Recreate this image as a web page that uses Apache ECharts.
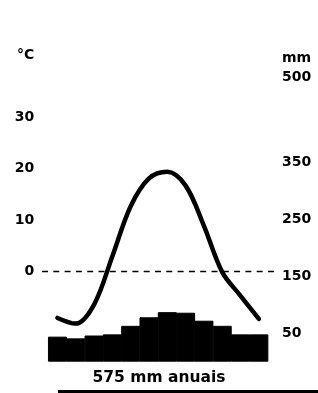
<!DOCTYPE html>
<html>
<head>
<meta charset="utf-8">
<script src="https://cdn.jsdelivr.net/npm/echarts@6/dist/echarts.min.js"></script>
<style>
  html, body { margin: 0; padding: 0; background: #fff; }
  #chart { width: 318px; height: 393px; }
</style>
</head>
<body>
<div id="chart"></div>
<script>
// meses (sem rótulo no gráfico)
const months = ['J', 'F', 'M', 'A', 'M', 'J', 'J', 'A', 'S', 'O', 'N', 'D']
// temperatura média mensal (°C)
const temperature = [-9.0, -10.1, -6.4, 3.0, 12.7, 18.1, 19.4, 16.7, 8.9, -0.1, -4.7, -9.2]
// precipitação mensal (mm)
const rainfall = [44, 41, 46, 48, 63, 78, 87, 86, 72, 63, 48, 48]
// rótulos dos eixos
const tempTicks = [0, 10, 20, 30]
const rainTicks = [50, 150, 250, 350, 500]
const zeroTemp = 0
const totalLabel = '575 mm anuais'

const font = 'DejaVu Sans'
const chart = echarts.init(document.getElementById('chart'))

const showOnly = (list) => (v) => {
  const r = Math.round(v * 100) / 100
  return list.includes(r) ? String(r) : ''
}

chart.setOption({
  animation: false,
  backgroundColor: '#fff',
  title: [
    { text: '°C', left: 12, top: 43, textStyle: { fontFamily: font, fontSize: 14, fontWeight: 'bold', color: '#000' } },
    { text: 'mm', left: 277, top: 46, textStyle: { fontFamily: font, fontSize: 14, fontWeight: 'bold', color: '#000' } },
    { text: totalLabel, left: 'center', top: 365, textStyle: { fontFamily: font, fontSize: 15.5, fontWeight: 'bold', color: '#000' } }
  ],
  grid: [
    { left: 48.3, right: 50, top: 77, bottom: 31.3 },
    // só para a linha tracejada do zero, um pouco mais larga
    { left: 42, right: 40, top: 77, bottom: 31.3 }
  ],
  xAxis: [
    {
      type: 'category', data: months, gridIndex: 0,
      axisLine: { show: false }, axisTick: { show: false }, axisLabel: { show: false }
    },
    { type: 'value', min: 0, max: 1, gridIndex: 1, show: false }
  ],
  yAxis: [
    {
      type: 'value', gridIndex: 0, position: 'left',
      min: -17.5, max: 37.8, interval: 2.5,
      axisLine: { show: false }, axisTick: { show: false }, splitLine: { show: false },
      axisLabel: {
        margin: 14, color: '#000', fontFamily: font, fontSize: 14, fontWeight: 'bold',
        showMinLabel: false, showMaxLabel: false,
        formatter: showOnly(tempTicks)
      }
    },
    {
      type: 'value', gridIndex: 0, position: 'right',
      min: 0, max: 500, interval: 50,
      axisLine: { show: false }, axisTick: { show: false }, splitLine: { show: false },
      axisLabel: {
        margin: 14, color: '#000', fontFamily: font, fontSize: 14, fontWeight: 'bold',
        formatter: showOnly(rainTicks)
      }
    },
    { type: 'value', gridIndex: 1, min: -17.5, max: 37.8, show: false }
  ],
  series: [
    {
      name: 'precipitação',
      type: 'bar',
      xAxisIndex: 0,
      yAxisIndex: 1,
      data: rainfall,
      barWidth: 19,
      itemStyle: { color: '#000', borderColor: '#000', borderWidth: 1 },
      z: 1
    },
    {
      name: 'zero',
      type: 'line',
      xAxisIndex: 1,
      yAxisIndex: 2,
      data: [[0, zeroTemp], [1, zeroTemp]],
      symbol: 'none',
      lineStyle: { color: '#000', width: 1.5, type: [6, 5.3] },
      z: 2
    },
    {
      name: 'temperatura',
      type: 'line',
      xAxisIndex: 0,
      yAxisIndex: 0,
      data: temperature,
      smooth: 0.35,
      symbol: 'none',
      lineStyle: { color: '#000', width: 4.5, cap: 'round' },
      z: 3
    }
  ],
  // traço grosso no rodapé
  graphic: [
    { type: 'rect', left: 58, bottom: 0, shape: { width: 260, height: 3 }, style: { fill: '#000' } }
  ]
})
</script>
</body>
</html>
